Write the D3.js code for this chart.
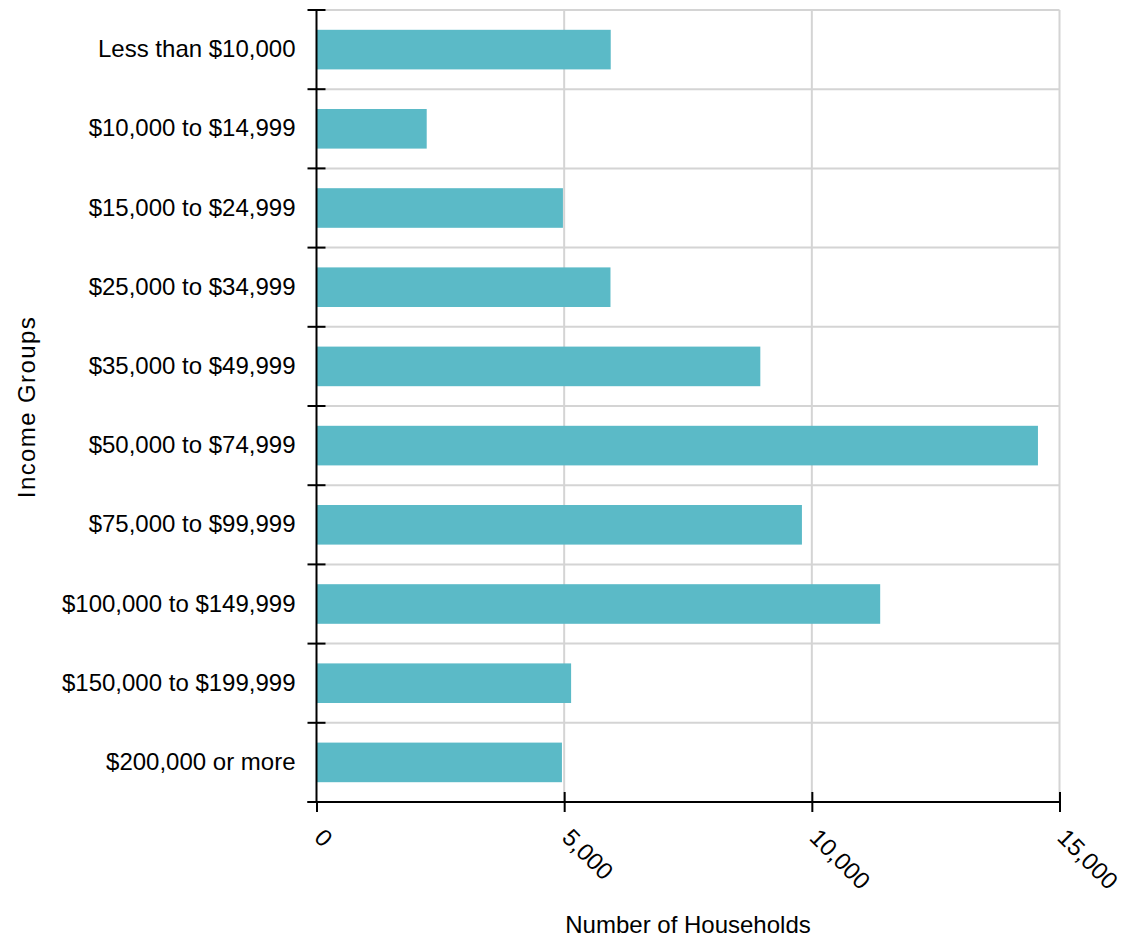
<!DOCTYPE html>
<html lang="en">
<head>
    <meta charset="UTF-8">
    <title>Households by Income</title>
    <script src="https://d3js.org/d3.v7.min.js"></script>
</head>
<body style="margin:0">

<style>
    text {
        font-family: "Liberation Sans", Arial, sans-serif;
        fill: #000;
    }
    .bar {
        fill: #5bbac7;
    }
    .grid line {
        stroke: #d4d4d4;
        stroke-width: 2;
    }
</style>

<script>
    // income groups and household counts
    const categories = ["Less than $10,000", "$10,000 to $14,999", "$15,000 to $24,999",
        "$25,000 to $34,999", "$35,000 to $49,999", "$50,000 to $74,999",
        "$75,000 to $99,999", "$100,000 to $149,999", "$150,000 to $199,999",
        "$200,000 or more"];
    const households = [5940, 2225, 4975, 5935, 8960, 14565, 9800, 11380, 5140, 4955];
    const xTicks = [0, 5000, 10000, 15000];

    const margin = {top: 10, left: 316.5};
    const width = 743;
    const height = 792;

    let svg = d3.select("body")
        .append("svg")
        .attr("width", 1132)
        .attr("height", 940);

    let g = svg.append("g")
        .attr("transform", "translate(" + margin.left + "," + margin.top + ")");

    const x = d3.scaleLinear().domain([0, 15000]).range([0, width]);
    const y = d3.scaleBand().domain(categories).range([0, height])
        .paddingInner(0.5).paddingOuter(0.25);
    // band edges for grid lines and y ticks
    const yEdge = d3.scaleBand().domain(categories).range([0, height]).padding(0);
    const edges = categories.map(function(c){ return yEdge(c); }).concat([height]);

    // grid
    let grid = g.append("g").attr("class", "grid");
    grid.selectAll(".h")
        .data(edges)
        .enter()
        .append("line")
        .attr("x1", 0)
        .attr("x2", width)
        .attr("y1", function(d){ return d; })
        .attr("y2", function(d){ return d; });
    grid.selectAll(".v")
        .data(xTicks.slice(1))
        .enter()
        .append("line")
        .attr("x1", function(d){ return x(d); })
        .attr("x2", function(d){ return x(d); })
        .attr("y1", 0)
        .attr("y2", height);

    // bars
    g.selectAll("rect")
        .data(households)
        .enter()
        .append("rect")
        .attr("class", "bar")
        .attr("x", 0)
        .attr("y", function(d, i){ return y(categories[i]); })
        .attr("width", function(d){ return x(d); })
        .attr("height", y.bandwidth());

    // x axis
    let xAxis = g.append("g")
        .attr("transform", "translate(0," + height + ")")
        .call(d3.axisBottom(x).tickValues(xTicks).tickFormat(d3.format(",")).tickSize(10).tickSizeOuter(0));
    xAxis.select(".domain").attr("stroke-width", 2).attr("d", "M-9,0H" + width);
    xAxis.selectAll(".tick line")
        .attr("stroke-width", 2)
        .attr("y1", function(d){ return d === 0 ? 0 : -10; });
    xAxis.selectAll(".tick text")
        .attr("x", 0)
        .attr("y", 0)
        .attr("dy", 0)
        .attr("transform", "translate(-4,37) rotate(45)")
        .style("text-anchor", "start")
        .style("font-size", "24px")
        .attr("fill", "#000");

    // y axis: labels at band centres, ticks at band edges
    let yAxis = g.append("g")
        .call(d3.axisLeft(y).tickSize(0).tickPadding(21).tickSizeOuter(0));
    yAxis.select(".domain").attr("stroke-width", 2).attr("d", "M0,0V" + height);
    yAxis.selectAll(".tick text")
        .style("font-size", "24px")
        .attr("fill", "#000");
    yAxis.selectAll(".edge")
        .data(edges)
        .enter()
        .append("line")
        .attr("x1", -9)
        .attr("x2", 9)
        .attr("y1", function(d){ return d; })
        .attr("y2", function(d){ return d; })
        .attr("stroke", "#000")
        .attr("stroke-width", 2);

    // titles
    svg.append("text")
        .attr("x", margin.left + width / 2)
        .attr("y", 933)
        .attr("text-anchor", "middle")
        .style("font-size", "24px")
        .text("Number of Households");

    svg.append("text")
        .attr("transform", "translate(35," + (margin.top + height / 2 + 1) + ") rotate(-90)")
        .attr("text-anchor", "middle")
        .style("font-size", "24px")
        .style("letter-spacing", "1.4px")
        .text("Income Groups");
</script>
</body>
</html>
